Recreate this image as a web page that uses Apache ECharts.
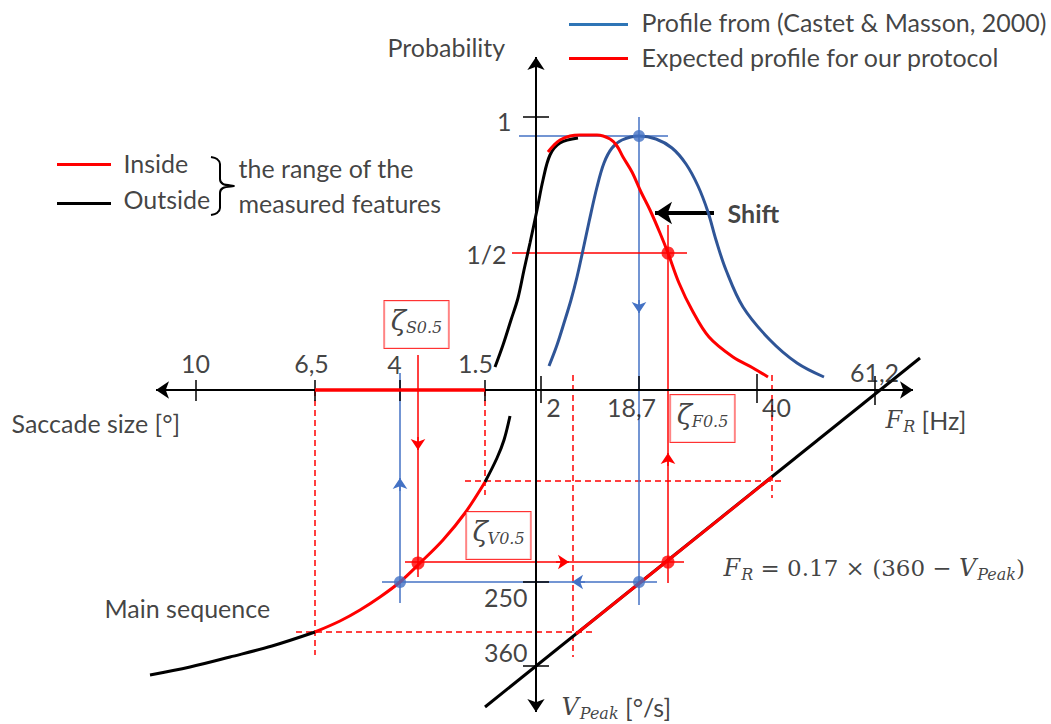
<!DOCTYPE html>
<html>
<head>
<meta charset="utf-8">
<script src="https://cdn.jsdelivr.net/npm/echarts/dist/echarts.min.js"></script>
<style>
  html, body { margin: 0; padding: 0; background: #fff; }
  #main { width: 1051px; height: 724px; }
</style>
</head>
<body>
<div id="main"></div>
<script>
// Sketch units: x to the right, y downward, one unit per pixel of the original drawing.

// tick labels and where they sit on each half-axis
const sizeTickLabels = ['10', '6,5', '4', '1.5'];
const sizeTickPos = [196, 315, 400, 485];
const freqTickLabels = ['2', '18,7', '40', '61,2'];
const freqTickPos = [541, 639, 757, 875];
const probTickLabels = ['1', '1/2'];
const probTickPos = [117, 253];
const vpeakTickLabels = ['250', '360'];
const vpeakTickPos = [582, 666];

// curves
const blueProfile = [[549, 366], [557, 345], [564, 323], [571, 300], [577, 277], [583, 250], [589, 222], [597, 187], [604, 163], [612, 148], [622, 140], [639, 136], [656, 139], [672, 148], [686, 164], [698, 186], [708, 212], [716, 240], [726, 270], [743, 307], [770, 340], [797, 363], [824, 377]];
const redProfile = [[548, 152], [554, 145], [560, 140], [570, 136], [580, 135], [597, 135], [610, 139], [617, 146], [623, 157], [632, 172], [641, 192], [650, 210], [660, 233], [668, 253], [679, 283], [692, 310], [709, 337], [733, 357], [753, 368], [768, 377]];
const blackProfile = [[495, 367], [503, 345], [511, 320], [518, 298], [524, 270], [530, 243], [537, 210], [543, 180], [550, 155], [560, 143], [578, 138]];
const mainSeqLow = [[150, 675], [190, 667], [230, 657], [272, 646], [315, 632]];
const mainSeqIn = [[315, 632], [340, 621], [360, 610], [380, 597], [400, 582], [420, 563], [443, 540], [465, 513], [485, 482]];
const mainSeqHigh = [[485, 482], [497, 458], [504, 440], [510, 416]];
const rateLine = [[485, 707], [920, 358]];
const rateLineIn = [[576, 634], [772, 477]];
const brace = [[211, 157], [217, 159], [220, 164], [220, 179], [223, 184], [234, 186], [223, 188], [220, 193], [220, 208], [217, 213], [211, 215]];

// straight pieces
const axes = [[[156, 390], [913, 390]], [[536, 57], [536, 712]]];
const sizeRange = [[315, 390], [485, 390]];
const dashedRed = [
  [[315, 390], [315, 655]], [[485, 390], [485, 495]], [[573, 375], [573, 657]], [[772, 375], [772, 498]],
  [[465, 481], [785, 481]], [[296, 632], [593, 632]]
];
const blueGuides = [[[519, 136], [668, 136]], [[639, 117], [639, 605]], [[400, 373], [400, 603]], [[382, 582], [657, 582]]];
const redGuides = [[[512, 253], [687, 253]], [[668, 225], [668, 583]], [[418, 355], [418, 577]], [[405, 562], [684, 562]]];
const blueArrows = [[[639, 300], [639, 313]], [[400, 491], [400, 478]], [[585, 582], [572, 582]]];
const redArrows = [[[418, 437], [418, 450]], [[556, 562], [569, 562]], [[668, 466], [668, 453]]];
const shiftArrow = [[714, 213], [655, 213]];
const redDots = [[668, 253], [418, 563], [668, 562]];
const blueDots = [[639, 136], [400, 582], [639, 582]];

const SANS = 'Lato, "Open Sans", sans-serif';
const SERIF = '"DejaVu Serif", serif';
const RED = '#ff0000';
const BLUE_LINE = '#4472c4';
const BLUE_CURVE = '#2f5597';
const INK = '#111111';

const chart = echarts.init(document.getElementById('main'), null, { renderer: 'svg' });

const segs = (list, style) => list.map(c => ({ coords: c, lineStyle: Object.assign({ opacity: 1 }, style) }));

const curve = (pts, color, width, z) => ({
  type: 'line', data: pts, smooth: 0.35, symbol: 'none', silent: true,
  lineStyle: { color: color, width: width }, z: z
});

const ticks = [];
sizeTickPos.forEach(x => ticks.push([[x, 380], [x, 401]]));
ticks.push([[freqTickPos[0], 376], [freqTickPos[0], 403]]);
ticks.push([[freqTickPos[1], 376], [freqTickPos[1], 390]]);
ticks.push([[freqTickPos[2], 374], [freqTickPos[2], 403]]);
ticks.push([[freqTickPos[3], 376], [freqTickPos[3], 405]]);
ticks.push([[523, probTickPos[0]], [549, probTickPos[0]]]);
vpeakTickPos.forEach(y => ticks.push([[523, y], [549, y]]));

const rich = {
  it: { fontFamily: SERIF, fontStyle: 'italic', fontSize: 24, color: INK },
  sub: { fontFamily: SERIF, fontStyle: 'italic', fontSize: 16, color: INK, padding: [13, 0, 0, 1] },
  m: { fontFamily: SERIF, fontSize: 23, color: INK },
  t: { fontFamily: SANS, fontSize: 25, color: INK },
  z: { fontFamily: SERIF, fontStyle: 'italic', fontSize: 28, color: INK },
  zs: { fontFamily: SERIF, fontStyle: 'italic', fontSize: 16, color: INK, padding: [13, 0, 0, 0] },
  b: { fontFamily: SANS, fontSize: 25, fontWeight: 'bold', color: INK }
};

const txt = (x, y, text, align, extra) => ({
  value: [x, y],
  label: Object.assign({ formatter: text, align: align || 'left', verticalAlign: 'middle' }, extra || {})
});

const boxStyle = {
  backgroundColor: '#fff', borderColor: RED, borderWidth: 1,
  width: 54, height: 37, padding: [5, 5], align: 'center'
};

const texts = [
  txt(388, 47, 'Probability'),
  txt(642, 22, 'Profile from (Castet & Masson, 2000)'),
  txt(642, 57, 'Expected profile for our protocol'),
  txt(124, 163, 'Inside'),
  txt(124, 199, 'Outside'),
  txt(239, 168, 'the range of the'),
  txt(239, 203, 'measured features'),
  txt(12, 423, 'Saccade size [°]'),
  txt(105, 608, 'Main sequence'),
  txt(728, 213, '{b|Shift}'),
  txt(512, 121, probTickLabels[0], 'right'),
  txt(507, 254, probTickLabels[1], 'right'),
  txt(sizeTickPos[0], 363, sizeTickLabels[0], 'center'),
  txt(sizeTickPos[1] - 3, 363, sizeTickLabels[1], 'center'),
  txt(sizeTickPos[2] - 5, 364, sizeTickLabels[2], 'center'),
  txt(sizeTickPos[3] - 9, 363, sizeTickLabels[3], 'center'),
  txt(freqTickPos[0] + 13, 407, freqTickLabels[0], 'center'),
  txt(freqTickPos[1] - 7, 407, freqTickLabels[1], 'center'),
  txt(freqTickPos[2] + 20, 407, freqTickLabels[2], 'center'),
  txt(freqTickPos[3], 372, freqTickLabels[3], 'center'),
  txt(528, 597, vpeakTickLabels[0], 'right'),
  txt(528, 652, vpeakTickLabels[1], 'right'),
  txt(886, 420, '{it|F}{sub|R}{t| [Hz]}'),
  txt(562, 707, '{it|V}{sub|Peak}{t| [°/s]}'),
  txt(724, 568, '{it|F}{sub|R}{m| = 0.17 × (360 − }{it|V}{sub|Peak}{m|)}'),
  txt(417, 325, '{z|ζ}{zs|S0.5}', 'center', boxStyle),
  txt(703, 419, '{z|ζ}{zs|F0.5}', 'center', boxStyle),
  txt(499, 536, '{z|ζ}{zs|V0.5}', 'center', boxStyle)
];

const option = {
  animation: false,
  backgroundColor: '#fff',
  grid: { left: 0, right: 0, top: 0, bottom: 0 },
  xAxis: { type: 'value', min: 0, max: 1051, show: false },
  yAxis: { type: 'value', min: 0, max: 724, inverse: true, show: false },
  series: [
    { type: 'lines', coordinateSystem: 'cartesian2d', silent: true, z: 1, symbol: 'none',
      data: segs(dashedRed, { color: RED, width: 1.5, type: [6, 4] }) },
    { type: 'lines', coordinateSystem: 'cartesian2d', silent: true, z: 2, symbol: 'none',
      data: segs(blueGuides, { color: BLUE_LINE, width: 1.5 }).concat(segs(redGuides, { color: RED, width: 1.5 })) },
    { type: 'lines', coordinateSystem: 'cartesian2d', silent: true, z: 3, symbol: ['arrow', 'arrow'], symbolSize: 13,
      data: segs(axes, { color: '#000', width: 2 }) },
    { type: 'lines', coordinateSystem: 'cartesian2d', silent: true, z: 4, symbol: 'none',
      data: segs(ticks, { color: '#000', width: 1.5 })
        .concat(segs([sizeRange], { color: RED, width: 3.5 }))
        .concat(segs([[[569, 24], [628, 24]]], { color: '#2e75b6', width: 3 }))
        .concat(segs([[[569, 58], [628, 58]], [[57, 164], [111, 164]]], { color: RED, width: 3 }))
        .concat(segs([[[57, 203], [111, 203]]], { color: '#000', width: 3 })) },
    { type: 'lines', coordinateSystem: 'cartesian2d', silent: true, z: 4, symbol: ['none', 'arrow'], symbolSize: 11,
      data: segs(blueArrows, { color: BLUE_LINE, width: 1.5 }) },
    { type: 'lines', coordinateSystem: 'cartesian2d', silent: true, z: 4, symbol: ['none', 'arrow'], symbolSize: 11,
      data: segs(redArrows, { color: RED, width: 1.5 }) },
    { type: 'lines', coordinateSystem: 'cartesian2d', silent: true, z: 4, symbol: ['none', 'arrow'], symbolSize: 17,
      data: segs([shiftArrow], { color: '#000', width: 4 }) },
    curve(blackProfile, '#000', 3, 5),
    curve(blueProfile, BLUE_CURVE, 3, 5),
    curve(redProfile, RED, 3, 6),
    curve(mainSeqLow, '#000', 3, 5),
    curve(mainSeqHigh, '#000', 3, 5),
    curve(mainSeqIn, RED, 3, 6),
    curve(rateLine, '#000', 3, 5),
    curve(rateLineIn, RED, 3, 6),
    curve(brace, '#000', 2, 5),
    { type: 'scatter', silent: true, z: 8, symbolSize: 13, itemStyle: { color: RED }, data: redDots },
    { type: 'scatter', silent: true, z: 8, symbolSize: 12, itemStyle: { color: BLUE_LINE }, data: blueDots },
    { type: 'scatter', silent: true, z: 10, symbolSize: 1, itemStyle: { color: 'rgba(0,0,0,0)' },
      label: { show: true, position: [0, 0], fontFamily: SANS, fontSize: 25, color: INK, rich: rich },
      data: texts }
  ]
};

chart.setOption(option);
</script>
</body>
</html>
